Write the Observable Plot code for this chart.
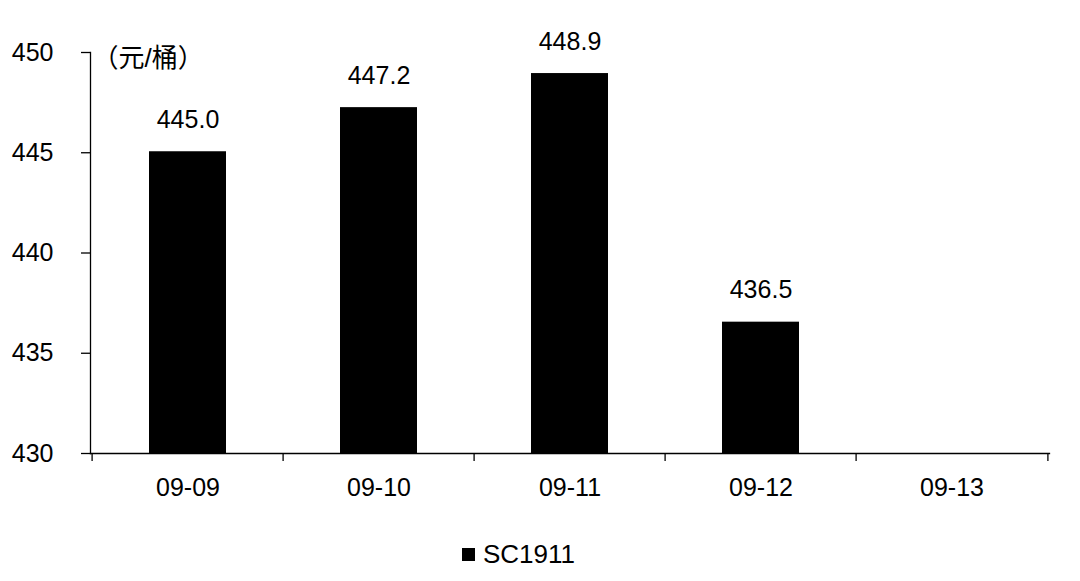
<!DOCTYPE html>
<html>
<head>
<meta charset="utf-8">
<script src="https://cdn.jsdelivr.net/npm/d3@7"></script>
<script src="https://cdn.jsdelivr.net/npm/@observablehq/plot@0.6"></script>
<style>
  html, body { margin: 0; padding: 0; background: #fff; }
  body { width: 1080px; height: 581px; overflow: hidden; font-family: "Liberation Sans", Arial, "Noto Sans CJK SC", sans-serif; }
  #legend { position: relative; height: 51px; }
  #legend .sw { position: absolute; left: 462px; top: 18px; width: 13px; height: 13px; background: #000; }
  #legend .lb { position: absolute; left: 483px; top: 9px; font-size: 26px; line-height: 30px; color: #000; }
</style>
</head>
<body>
<div id="chart"></div>
<div id="legend"><span class="sw"></span><span class="lb"></span></div>
<script>
const categories = ["09-09", "09-10", "09-11", "09-12", "09-13"];
const values = [445.0, 447.2, 448.9, 436.5, 0];
const yTicks = [430, 435, 440, 445, 450];
const unitLabel = "（元/桶）";
const seriesName = "SC1911";

document.querySelector("#legend .lb").textContent = seriesName;

const yMin = yTicks[0], yMax = yTicks[yTicks.length - 1];
const data = categories.map((c, i) => ({date: c, value: values[i]}));
const W = 1080, H = 530;
const mL = 90, mR = 31;
const frameW = W - mL - mR;
const step = frameW / categories.length;
const TICK = 9;
const FONT = '"Liberation Sans", Arial, "Noto Sans CJK SC", sans-serif';

const chart = Plot.plot({
  width: W,
  height: H,
  marginLeft: mL,
  marginRight: mR,
  marginTop: 52,
  marginBottom: 77,
  style: {fontFamily: FONT, fontSize: "25px", color: "#000", background: "#fff"},
  x: {domain: categories, padding: 0, label: null, tickSize: 0, tickPadding: 25},
  y: {domain: [yMin, yMax], ticks: yTicks, tickSize: 0, tickPadding: 28 + TICK, label: null, tickFormat: d => String(d)},
  marks: [
    Plot.barY(data, {x: "date", y1: yMin, y2: d => Math.max(d.value, yMin), fill: "#000", stroke: "#000", strokeWidth: 2, insetLeft: 58, insetRight: 58}),
    Plot.text(data.filter(d => d.value > yMin), {x: "date", y: "value", text: d => d.value.toFixed(1), dy: -33, fontSize: 25, fill: "#000"}),
    Plot.frame({anchor: "left", stroke: "#000", strokeWidth: 1.3}),
    Plot.frame({anchor: "bottom", stroke: "#000", strokeWidth: 1.3}),
    Plot.ruleY(yTicks, {y: d => d, insetRight: frameW - TICK, dx: -TICK, stroke: "#000", strokeWidth: 1.3}),
    Plot.ruleX(categories, {x: d => d, y1: yMin, y2: yMin - 0.4, dx: -step / 2, stroke: "#000", strokeWidth: 1.3}),
    Plot.ruleX([categories[categories.length - 1]], {x: d => d, y1: yMin, y2: yMin - 0.4, dx: step / 2, stroke: "#000", strokeWidth: 1.3}),
    Plot.text([unitLabel], {frameAnchor: "top-left", text: d => d, dx: 2, dy: 6, textAnchor: "start", lineAnchor: "middle", fontSize: 26, fill: "#000"})
  ]
});
document.getElementById("chart").appendChild(chart);
</script>
</body>
</html>
